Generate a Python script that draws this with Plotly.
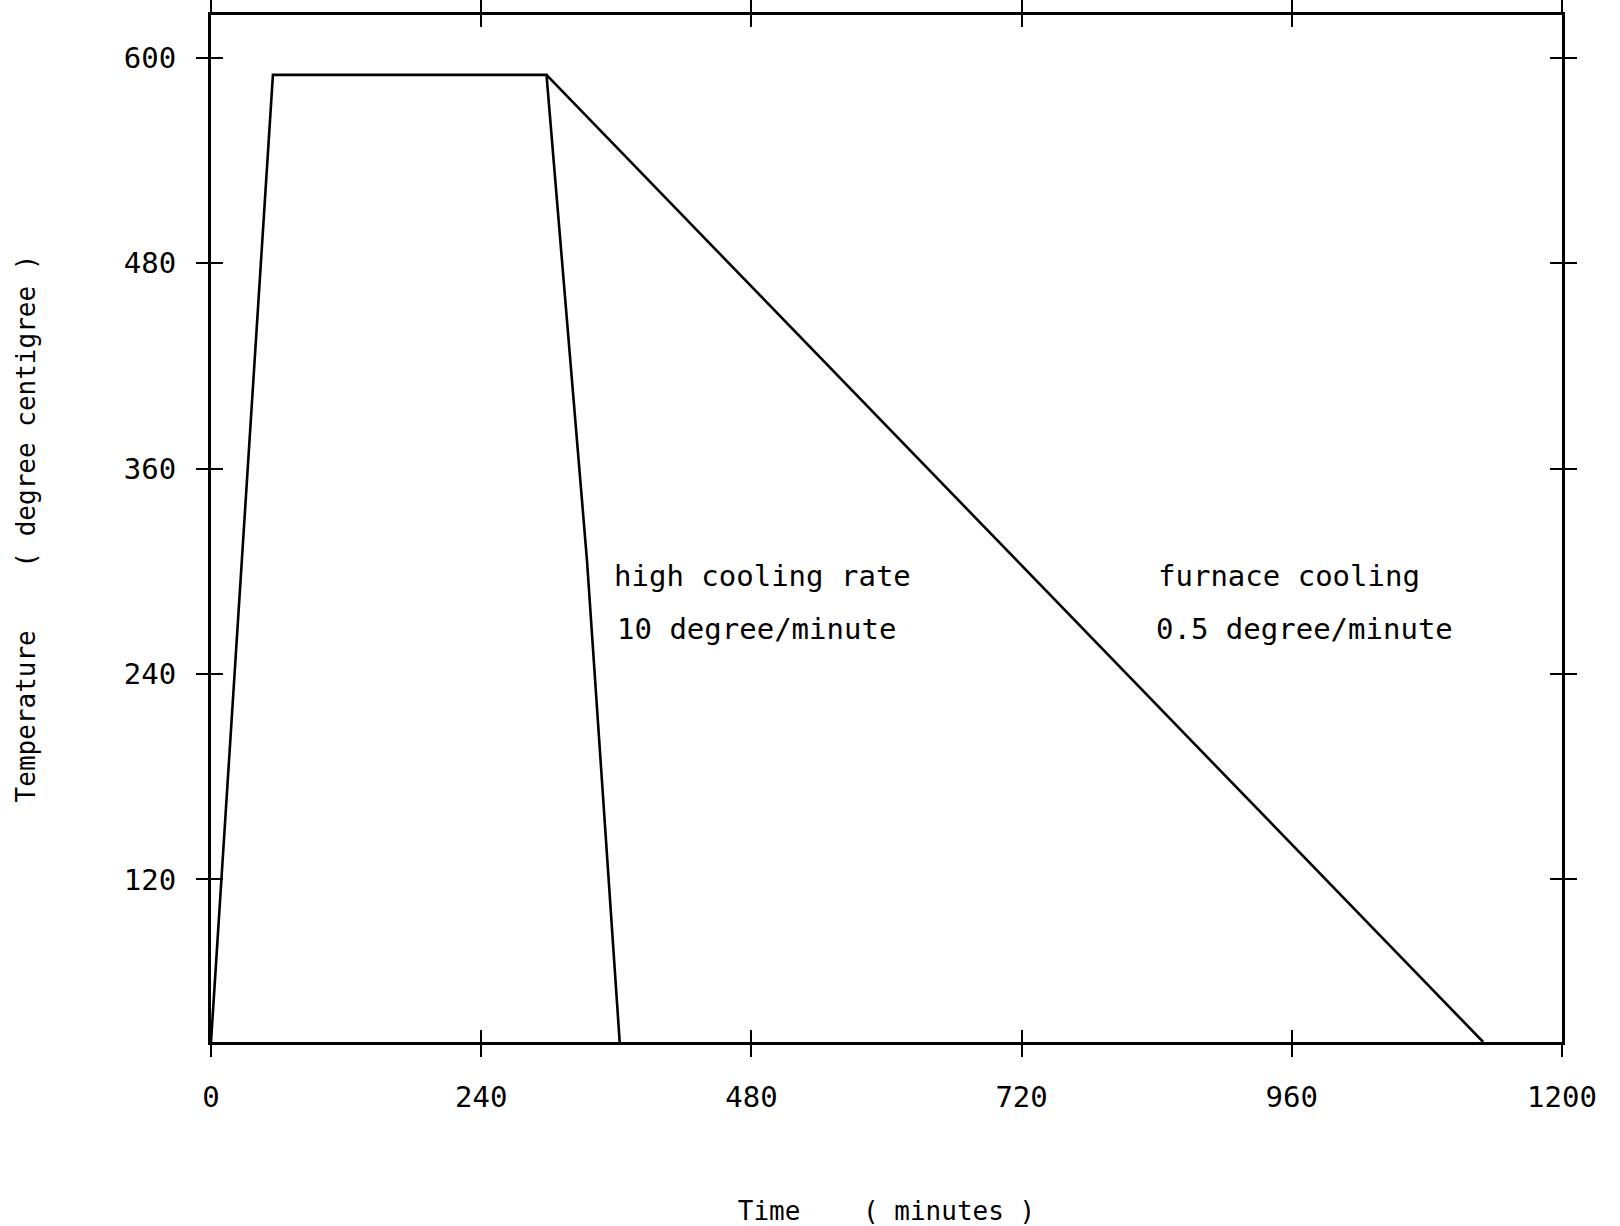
import plotly.graph_objects as go

# Temperature schedule (minutes, degrees C)
time_high = [0, 55, 298, 334, 363]
temp_high = [25, 590, 590, 306, 25]
time_furnace = [298, 1130]
temp_furnace = [590, 25]

x_ticks = [0, 240, 480, 720, 960, 1200]
y_ticks = [120, 240, 360, 480, 600]

labels_text = ["high cooling rate", "10 degree/minute", "furnace cooling", "0.5 degree/minute"]
labels_x = [356, 359, 839, 838]
labels_y = [297.5, 266.5, 297.5, 266.5]

FONT = "DejaVu Sans Mono"

fig = go.Figure()
fig.add_trace(go.Scatter(x=time_high, y=temp_high, mode="lines",
                         line=dict(color="black", width=2.6), showlegend=False))
fig.add_trace(go.Scatter(x=time_furnace, y=temp_furnace, mode="lines", xaxis="x2", yaxis="y2",
                         line=dict(color="black", width=2.6), showlegend=False))

for t, x, y in zip(labels_text, labels_x, labels_y):
    fig.add_annotation(x=x, y=y, text=t, showarrow=False, xanchor="left", yanchor="middle",
                       font=dict(family=FONT, size=29, color="black"))

axis_common = dict(showgrid=False, zeroline=False, color="black", automargin=False)

fig.update_layout(
    width=1620, height=1226,
    margin=dict(l=211, r=58, t=15, b=184),
    paper_bgcolor="white", plot_bgcolor="white",
    showlegend=False,
    font=dict(family=FONT, color="black"),
    xaxis=dict(range=[0, 1200], tickvals=x_ticks, ticktext=[str(v) for v in x_ticks],
               ticks="outside", ticklen=12, tickwidth=2, tickcolor="black",
               showline=True, linewidth=3, linecolor="black", mirror="ticks",
               tickfont=dict(family=FONT, size=29, color="black"),
               ticklabelstandoff=15,
               title=dict(text="Time    ( minutes )", font=dict(family=FONT, size=26, color="black"),
                          standoff=90),
               **axis_common),
    yaxis=dict(range=[25, 625], tickvals=y_ticks, ticktext=[str(v) for v in y_ticks],
               ticks="outside", ticklen=12, tickwidth=2, tickcolor="black",
               showline=True, linewidth=3, linecolor="black", mirror="ticks",
               tickfont=dict(family=FONT, size=29, color="black"),
               ticklabelstandoff=14,
               title=dict(text="Temperature    ( degree centigree )",
                          font=dict(family=FONT, size=26, color="black"), standoff=81),
               **axis_common),
    xaxis2=dict(range=[0, 1200], tickvals=x_ticks, overlaying="x", anchor="y2",
                ticks="inside", ticklen=12, tickwidth=2, tickcolor="black",
                showticklabels=False, showline=False, mirror="ticks", **axis_common),
    yaxis2=dict(range=[25, 625], tickvals=y_ticks, overlaying="y", anchor="x2",
                ticks="inside", ticklen=12, tickwidth=2, tickcolor="black",
                showticklabels=False, showline=False, mirror="ticks", **axis_common),
)

fig.write_html("out.html")
